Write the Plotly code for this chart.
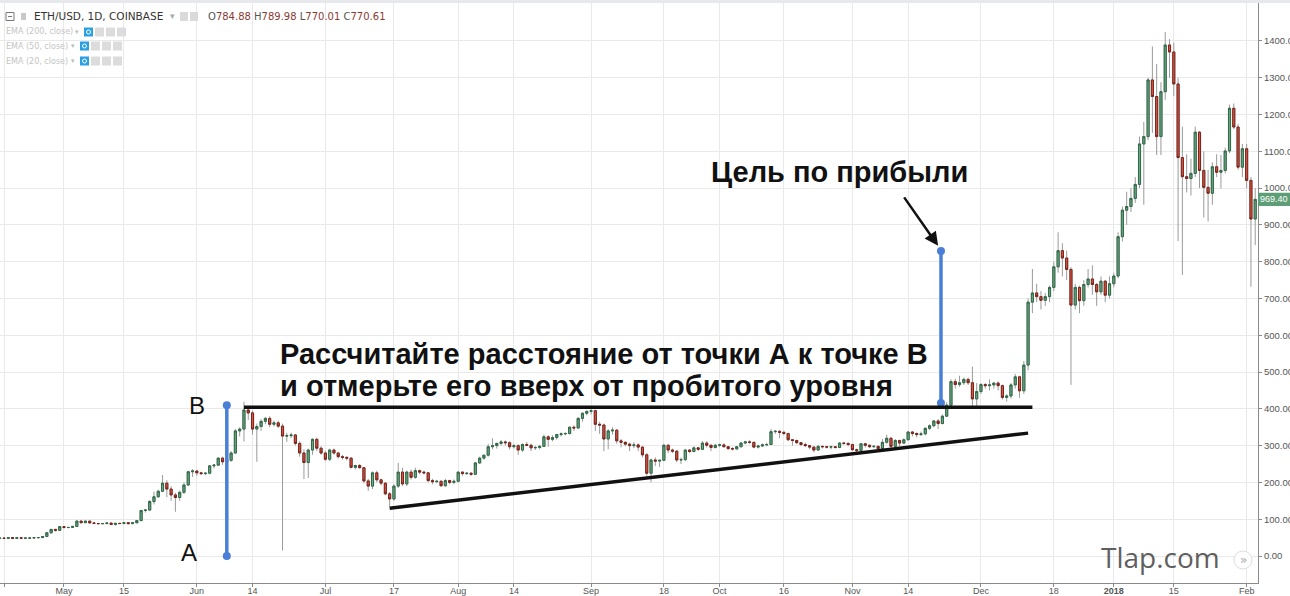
import numpy as np
import pandas as pd
import plotly.graph_objects as go

# ---------------- DATA: ETH/USD daily candles (O, H, L, C) ----------------
apr17 = [
    (48.0, 49.0, 47.4, 48.6), (48.6, 49.1, 47.3, 47.9), (47.9, 50.6, 47.8, 49.9),
    (49.9, 50.1, 47.5, 47.9), (47.9, 50.0, 47.9, 49.6), (49.6, 49.9, 47.9, 48.4),
    (48.4, 49.1, 47.6, 48.7), (48.7, 49.2, 48.0, 48.9), (48.9, 50.3, 48.4, 49.9),
    (49.9, 50.5, 48.9, 50.0), (50.0, 54.1, 49.8, 53.1), (53.1, 63.9, 52.7, 63.1),
    (63.1, 73.2, 60.2, 72.3), (72.3, 73.6, 66.1, 69.6), (69.6, 80.5, 68.9, 79.8),
]
may17 = [
    (79.8, 80.3, 74.6, 77.5), (77.5, 78.6, 75.0, 77.6), (77.6, 80.6, 76.5, 80.3),
    (80.3, 96.7, 80.3, 94.8), (94.8, 96.8, 88.6, 90.5), (90.5, 96.6, 90.0, 94.8),
    (94.8, 95.1, 87.6, 90.0), (90.0, 90.6, 86.5, 88.4), (88.4, 89.1, 85.4, 88.0),
    (88.0, 89.7, 86.0, 88.1), (88.1, 89.9, 86.5, 89.5), (89.5, 89.8, 84.0, 85.8),
    (85.8, 89.1, 82.3, 88.7), (88.7, 90.1, 87.3, 88.2), (88.2, 91.3, 87.4, 90.6),
    (90.6, 90.9, 86.5, 88.0), (88.0, 91.2, 86.6, 90.2), (90.2, 97.8, 89.7, 96.2),
    (96.2, 125.0, 96.0, 123.8), (123.8, 127.6, 118.0, 124.9), (124.9, 152.0, 122.0, 148.0),
    (148.0, 175.0, 140.0, 161.0), (161.0, 180.0, 158.0, 176.0), (176.0, 220.0, 174.0, 198.0),
    (198.0, 206.0, 160.0, 182.0), (182.0, 190.0, 150.0, 166.0), (166.0, 172.0, 120.0, 159.0),
    (159.0, 178.0, 150.0, 173.0), (173.0, 200.0, 168.0, 193.0), (193.0, 232.0, 190.0, 229.0),
    (229.0, 236.0, 215.0, 231.0),
]
jun17 = [
    (231, 234, 218, 226), (226, 229, 220, 224), (224, 228, 219, 225), (225, 247, 222, 245),
    (245, 250, 238, 247), (247, 268, 245, 266), (266, 270, 248, 256), (256, 262, 250, 260),
    (260, 285, 256, 280), (280, 345, 278, 340), (340, 350, 325, 345), (345, 419, 311, 397),
    (397, 402, 370, 389), (389, 395, 330, 345), (345, 360, 256, 352), (352, 372, 340, 366),
    (366, 378, 358, 374), (374, 380, 350, 358), (358, 368, 352, 362), (362, 368, 348, 353),
    (353, 360, 15, 326), (326, 335, 310, 327), (327, 335, 320, 329), (329, 332, 300, 306),
    (306, 312, 270, 280), (280, 290, 209, 254), (254, 292, 212, 288), (288, 320, 275, 317),
    (317, 322, 285, 293), (293, 298, 275, 280),
]
jul17 = [
    (280, 285, 258, 263), (263, 292, 258, 288), (288, 292, 275, 280), (280, 283, 265, 270),
    (270, 275, 262, 268), (268, 272, 260, 266), (266, 268, 238, 241), (241, 248, 235, 246),
    (246, 250, 238, 240), (240, 242, 198, 204), (204, 210, 177, 190), (190, 230, 182, 226),
    (226, 232, 200, 207), (207, 210, 192, 198), (198, 200, 165, 169), (169, 174, 134, 155),
    (155, 195, 150, 190), (190, 253, 185, 228), (228, 240, 190, 196), (196, 232, 190, 228),
    (228, 235, 208, 214), (214, 240, 210, 232), (232, 235, 222, 228), (228, 232, 222, 226),
    (226, 228, 200, 205), (205, 210, 195, 202), (202, 207, 198, 203), (203, 206, 188, 191),
    (191, 210, 188, 205), (205, 207, 195, 200), (200, 208, 195, 203),
]
aug17 = [
    (203, 230, 200, 228), (228, 230, 218, 224), (224, 228, 220, 225), (225, 228, 218, 222),
    (222, 256, 220, 253), (253, 270, 250, 266), (266, 275, 262, 274), (274, 305, 270, 297),
    (297, 320, 290, 300), (300, 308, 292, 306), (306, 315, 300, 310), (310, 314, 300, 308),
    (308, 312, 290, 297), (297, 305, 292, 300), (300, 304, 275, 288), (288, 306, 283, 303),
    (303, 310, 298, 301), (301, 305, 285, 294), (294, 300, 288, 295), (295, 302, 290, 298),
    (298, 330, 296, 324), (324, 328, 297, 317), (317, 328, 312, 322), (322, 332, 316, 330),
    (330, 336, 325, 332), (332, 336, 328, 333), (333, 352, 330, 350), (350, 355, 340, 348),
    (348, 378, 345, 374), (374, 390, 365, 388), (388, 396, 382, 393),
]
sep17 = [
    (393, 402, 385, 395), (395, 398, 340, 358), (358, 365, 332, 356), (356, 360, 285, 318),
    (318, 345, 290, 340), (340, 350, 330, 342), (342, 345, 305, 313), (313, 318, 295, 309),
    (309, 312, 298, 304), (304, 308, 285, 300), (300, 310, 293, 302), (302, 306, 285, 296),
    (296, 298, 268, 275), (275, 280, 218, 225), (225, 265, 200, 261), (261, 268, 245, 258),
    (258, 262, 242, 260), (260, 305, 258, 301), (301, 304, 280, 288), (288, 292, 280, 285),
    (285, 288, 255, 261), (261, 268, 250, 262), (262, 290, 258, 288), (288, 290, 280, 284),
    (284, 298, 282, 294), (294, 296, 285, 290), (290, 312, 288, 307), (307, 312, 295, 301),
    (301, 303, 285, 295), (295, 305, 292, 301),
]
oct17 = [
    (301, 305, 296, 302), (302, 306, 295, 297), (297, 299, 288, 292), (292, 296, 287, 291),
    (291, 299, 289, 297), (297, 310, 295, 307), (307, 313, 304, 310), (310, 315, 305, 309),
    (309, 310, 293, 296), (296, 302, 292, 299), (299, 306, 296, 302), (302, 308, 298, 303),
    (303, 345, 302, 338), (338, 342, 332, 339), (339, 341, 320, 336), (336, 340, 328, 333),
    (333, 335, 312, 316), (316, 318, 300, 314), (314, 316, 304, 308), (308, 310, 299, 303),
    (303, 308, 296, 300), (300, 302, 290, 296), (296, 298, 282, 288), (288, 302, 286, 298),
    (298, 300, 292, 297), (297, 299, 292, 296), (296, 300, 290, 297), (297, 299, 292, 295),
    (295, 310, 293, 307), (307, 310, 302, 306), (306, 309, 298, 303),
]
nov17 = [
    (303, 305, 285, 289), (289, 292, 280, 287), (287, 307, 285, 305), (305, 307, 295, 301),
    (301, 303, 293, 297), (297, 302, 294, 298), (298, 300, 288, 292), (292, 318, 290, 309),
    (309, 330, 305, 320), (320, 324, 292, 298), (298, 318, 295, 314), (314, 316, 298, 307),
    (307, 320, 304, 316), (316, 340, 314, 337), (337, 340, 325, 333), (333, 336, 322, 330),
    (330, 338, 326, 332), (332, 350, 328, 347), (347, 358, 342, 354), (354, 370, 350, 367),
    (367, 372, 345, 360), (360, 385, 358, 380), (380, 418, 378, 410), (410, 480, 405, 474),
    (474, 482, 455, 466), (466, 490, 460, 471), (471, 485, 465, 480), (480, 485, 465, 471),
    (471, 515, 405, 427), (427, 470, 400, 447),
]
dec17 = [
    (447, 470, 440, 466), (466, 470, 455, 463), (463, 480, 450, 465), (465, 472, 455, 470),
    (470, 475, 450, 463), (463, 466, 425, 431), (431, 440, 420, 435), (435, 470, 428, 465),
    (465, 495, 455, 487), (487, 490, 430, 449), (449, 530, 440, 519), (519, 700, 505, 690),
    (690, 780, 660, 715), (715, 740, 690, 705), (705, 720, 670, 695), (695, 715, 680, 705),
    (705, 735, 690, 730), (730, 800, 720, 786), (786, 880, 770, 830), (830, 850, 760, 810),
    (810, 830, 750, 779), (779, 785, 465, 682), (682, 740, 670, 730), (730, 735, 660, 694),
    (694, 750, 680, 738), (738, 780, 730, 753), (753, 790, 710, 738), (738, 742, 680, 718),
    (718, 760, 710, 747), (747, 750, 690, 709), (709, 760, 700, 740),
]
jan18 = [
    (740, 770, 730, 761), (761, 880, 755, 868), (868, 950, 855, 940), (940, 990, 900, 950),
    (950, 1000, 935, 972), (972, 1030, 960, 1010), (1010, 1140, 1000, 1120), (1120, 1180, 955, 1140),
    (1140, 1300, 1130, 1294), (1294, 1385, 1150, 1249), (1249, 1337, 1090, 1140), (1140, 1288, 1090, 1262),
    (1262, 1424, 1240, 1389), (1389, 1405, 1300, 1370), (1370, 1395, 1250, 1283), (1283, 1300, 856, 1083),
    (1083, 1167, 764, 1031), (1031, 1092, 988, 1026), (1026, 1080, 980, 1040), (1040, 1167, 1030, 1152),
    (1152, 1155, 1000, 1048), (1048, 1100, 920, 1002), (1002, 1050, 909, 986), (986, 1070, 955, 1058),
    (1058, 1092, 1030, 1043), (1043, 1090, 999, 1048), (1048, 1110, 1040, 1101), (1101, 1227, 1095, 1217),
    (1217, 1230, 1160, 1166), (1166, 1175, 1050, 1057), (1057, 1120, 1030, 1107),
]
feb18 = [
    (1107, 1120, 1000, 1021), (1021, 1030, 732, 916), (916, 1000, 845, 969.40),
]
month_starts = ["2017-04-16", "2017-05-01", "2017-06-01", "2017-07-01", "2017-08-01", "2017-09-01",
                "2017-10-01", "2017-11-01", "2017-12-01", "2018-01-01", "2018-02-01"]
month_rows = [apr17, may17, jun17, jul17, aug17, sep17, oct17, nov17, dec17, jan18, feb18]

x_tick_dates = ["2017-04-17", "2017-05-01", "2017-05-15", "2017-06-01", "2017-06-14", "2017-07-01",
                "2017-07-17", "2017-08-01", "2017-08-14", "2017-09-01", "2017-09-18", "2017-10-01",
                "2017-10-16", "2017-11-01", "2017-11-14", "2017-12-01", "2017-12-18", "2018-01-01",
                "2018-01-15", "2018-02-01"]
x_tick_text = ["17", "May", "15", "Jun", "14", "Jul", "17", "Aug", "14", "Sep", "18", "Oct", "16",
               "Nov", "14", "Dec", "18", "<b>2018</b>", "15", "Feb"]
y_tick_vals = [0, 100, 200, 300, 400, 500, 600, 700, 800, 900, 1000, 1100, 1200, 1300, 1400]

last_price = 969.40

# drawing annotations (date, price)
ab_line = dict(x="2017-06-08", y0=0, y1=410)
resistance = dict(x0="2017-06-12", x1="2017-12-13", y=404)
trendline = dict(x0="2017-07-16", y0=130, x1="2017-12-12", y1=334)
target_line = dict(x="2017-11-21 16:00", y0=416, y1=829)
arrow_head = dict(x="2017-11-21 00:00", y=843)

# ---------------- BUILD ----------------
dates, o, h, l, c = [], [], [], [], []
for start, rows in zip(month_starts, month_rows):
    dates.extend(pd.date_range(start, periods=len(rows), freq="D"))
    for row in rows:
        o.append(row[0]); h.append(row[1]); l.append(row[2]); c.append(row[3])
o, h, l, c = map(np.array, (o, h, l, c))
body_hi = np.maximum(o, c)
body_lo = np.minimum(o, c)

W, H = 1290, 596
PLOT_W, PLOT_B = 1258, 583


def px(xp):
    return xp / PLOT_W


def py(yp):
    return (PLOT_B - yp) / PLOT_B


BLUE = "#4a7fd8"
AXIS_FONT = "Liberation Sans Narrow, Liberation Sans, Arial"
fig = go.Figure()

# wicks
fig.add_trace(go.Candlestick(
    x=dates, open=o, high=h, low=l, close=c,
    increasing=dict(line=dict(color="#9a9a9a", width=1), fillcolor="#9a9a9a"),
    decreasing=dict(line=dict(color="#9a9a9a", width=1), fillcolor="#9a9a9a"),
    hoverinfo="skip", showlegend=False))
# bodies
fig.add_trace(go.Candlestick(
    x=dates, open=o, high=body_hi, low=body_lo, close=c,
    increasing=dict(line=dict(color="#2f6a47", width=1), fillcolor="#6ba583"),
    decreasing=dict(line=dict(color="#7a231a", width=1), fillcolor="#d75442"),
    showlegend=False))

shapes = []
shapes.append(dict(type="line", xref="x", yref="y", x0=ab_line["x"], x1=ab_line["x"],
                   y0=ab_line["y0"], y1=ab_line["y1"], line=dict(color=BLUE, width=3.5)))
shapes.append(dict(type="line", xref="x", yref="y", x0=resistance["x0"], x1=resistance["x1"],
                   y0=resistance["y"], y1=resistance["y"], line=dict(color="#111", width=3.5)))
shapes.append(dict(type="line", xref="x", yref="y", x0=trendline["x0"], x1=trendline["x1"],
                   y0=trendline["y0"], y1=trendline["y1"], line=dict(color="#111", width=3.5)))
shapes.append(dict(type="line", xref="x", yref="y", x0=target_line["x"], x1=target_line["x"],
                   y0=target_line["y0"], y1=target_line["y1"], line=dict(color=BLUE, width=3.5)))
# price label box on axis
shapes.append(dict(type="rect", xref="paper", yref="y", x0=1.0, x1=W / PLOT_W,
                   y0=last_price - 18, y1=last_price + 18, fillcolor="#5e9e77", line=dict(width=0)))
# top strip
shapes.append(dict(type="rect", xref="paper", yref="paper", x0=0, x1=W / PLOT_W, y0=py(3), y1=py(0),
                   fillcolor="#e6e8ec", line=dict(width=0)))
# header icons
shapes.append(dict(type="rect", xref="paper", yref="paper", x0=px(6), x1=px(14), y0=py(20.5), y1=py(12.5),
                   line=dict(color="#777", width=1), fillcolor="white"))
shapes.append(dict(type="line", xref="paper", yref="paper", x0=px(8), x1=px(12), y0=py(16.5), y1=py(16.5),
                   line=dict(color="#777", width=1)))
shapes.append(dict(type="rect", xref="paper", yref="paper", x0=px(21), x1=px(26), y0=py(20), y1=py(13),
                   line=dict(width=0), fillcolor="#c8c8c8"))
for x0 in (180, 190):
    shapes.append(dict(type="rect", xref="paper", yref="paper", x0=px(x0), x1=px(x0 + 8), y0=py(21), y1=py(12),
                       line=dict(width=0), fillcolor="#dadada"))
# EMA row icons
for ybase, xs in ((32, 84), (46, 80), (61, 80)):
    shapes.append(dict(type="rect", xref="paper", yref="paper", x0=px(xs), x1=px(xs + 9),
                       y0=py(ybase + 4.5), y1=py(ybase - 4.5), line=dict(width=0), fillcolor="#2aa0e4"))
    shapes.append(dict(type="circle", xref="paper", yref="paper", x0=px(xs + 2.5), x1=px(xs + 6.5),
                       y0=py(ybase + 2), y1=py(ybase - 2), line=dict(color="white", width=1)))
    for k in range(3):
        xx = xs + 11 + k * 11
        shapes.append(dict(type="rect", xref="paper", yref="paper", x0=px(xx), x1=px(xx + 9),
                           y0=py(ybase + 4.5), y1=py(ybase - 4.5), line=dict(width=0), fillcolor="#dcdcdc"))
# scroll button circle
shapes.append(dict(type="circle", xref="paper", yref="paper", x0=px(1234), x1=px(1252), y0=py(569), y1=py(551),
                   line=dict(color="#dddddd", width=1), fillcolor="white"))
fig.update_layout(shapes=shapes)

# endpoints of blue lines
fig.add_trace(go.Scatter(
    x=[ab_line["x"], ab_line["x"], target_line["x"], target_line["x"]],
    y=[ab_line["y0"], ab_line["y1"], target_line["y0"], target_line["y1"]],
    mode="markers", marker=dict(color=BLUE, size=8), hoverinfo="skip", showlegend=False))

ann = []
BOLD = "Liberation Sans"


def text(t, x, y, size, color, family=BOLD, xanchor="center"):
    return dict(text=t, x=px(x), y=py(y), xref="paper", yref="paper", xanchor=xanchor, yanchor="middle",
                showarrow=False, font=dict(family=family, size=size, color=color))


ann.append(text("<b>Цель по прибыли</b>", 839, 172, 29, "#111"))
ann.append(text("<b>Рассчитайте расстояние от точки А к точке В</b>", 278, 354, 29, "#111", xanchor="left"))
ann.append(text("<b>и отмерьте его вверх от пробитого уровня</b>", 278, 386, 29, "#111", xanchor="left"))
ann.append(text("B", 197, 405, 24, "#111"))
ann.append(text("A", 189, 552, 24, "#111"))
ann.append(dict(text="", x=arrow_head["x"], y=arrow_head["y"], xref="x", yref="y", ax=-35, ay=-50,
                showarrow=True, arrowhead=2, arrowsize=1.1, arrowwidth=2.5, arrowcolor="#111"))
ann.append(text("Tlap.com", 1160, 557, 28, "#5f5f5f", family="Open Sans"))
ann.append(text("»", 1243, 560, 12, "#aaaaaa", family="DejaVu Sans"))
ann.append(dict(text=f"{last_price:.2f}", x=(PLOT_W + 16) / PLOT_W, y=last_price, xref="paper", yref="y",
                xanchor="center", yanchor="middle",
                showarrow=False, font=dict(family=AXIS_FONT, size=9, color="white")))
# header
ann.append(text("ETH/USD, 1D, COINBASE", 32, 16.5, 10.5, "#333", family="DejaVu Sans", xanchor="left"))
ann.append(text("▾", 168, 16, 9, "#aaa", family="DejaVu Sans", xanchor="left"))
RED = "#8b3a32"
ohlc_txt = (f"O<span style='color:{RED}'>784.88</span> H<span style='color:{RED}'>789.98</span> "
            f"L<span style='color:{RED}'>770.01</span> C<span style='color:{RED}'>770.61</span>")
ann.append(text(ohlc_txt, 206, 16.5, 10, "#555", family="DejaVu Sans", xanchor="left"))
for label, ybase, xs in (("EMA (200, close)", 32, 84), ("EMA (50, close)", 46, 80), ("EMA (20, close)", 61, 80)):
    ann.append(text(label, 4, ybase, 8, "#c4c4c4", family="DejaVu Sans", xanchor="left"))
    ann.append(text("▾", xs - 11, ybase, 7, "#bbb", family="DejaVu Sans", xanchor="left"))
fig.update_layout(annotations=ann)

fig.update_layout(
    width=W, height=H,
    margin=dict(l=0, r=W - PLOT_W, t=0, b=H - PLOT_B),
    paper_bgcolor="white", plot_bgcolor="white",
    showlegend=False,
    xaxis=dict(type="date", range=["2017-04-16 01:34", "2018-02-03 15:36"],
               tickvals=x_tick_dates, ticktext=x_tick_text,
               showgrid=True, gridcolor="#e9e9e9", gridwidth=1,
               showline=True, linecolor="#8a8a8a", linewidth=1,
               ticks="outside", ticklen=3, tickcolor="#8a8a8a", ticklabelstandoff=-4,
               tickfont=dict(family="Liberation Sans", size=9, color="#555"),
               rangeslider=dict(visible=False), automargin=False, fixedrange=True),
    yaxis=dict(side="right", range=[-73.4, 1511.3], tickvals=y_tick_vals, tickformat=".2f",
               showgrid=True, gridcolor="#e9e9e9", gridwidth=1, zeroline=False,
               showline=True, linecolor="#8a8a8a", linewidth=1,
               ticks="outside", ticklen=3, tickcolor="#8a8a8a",
               tickfont=dict(family=AXIS_FONT, size=9.5, color="#555"),
               automargin=False, fixedrange=True),
)

fig.write_html("out.html")
